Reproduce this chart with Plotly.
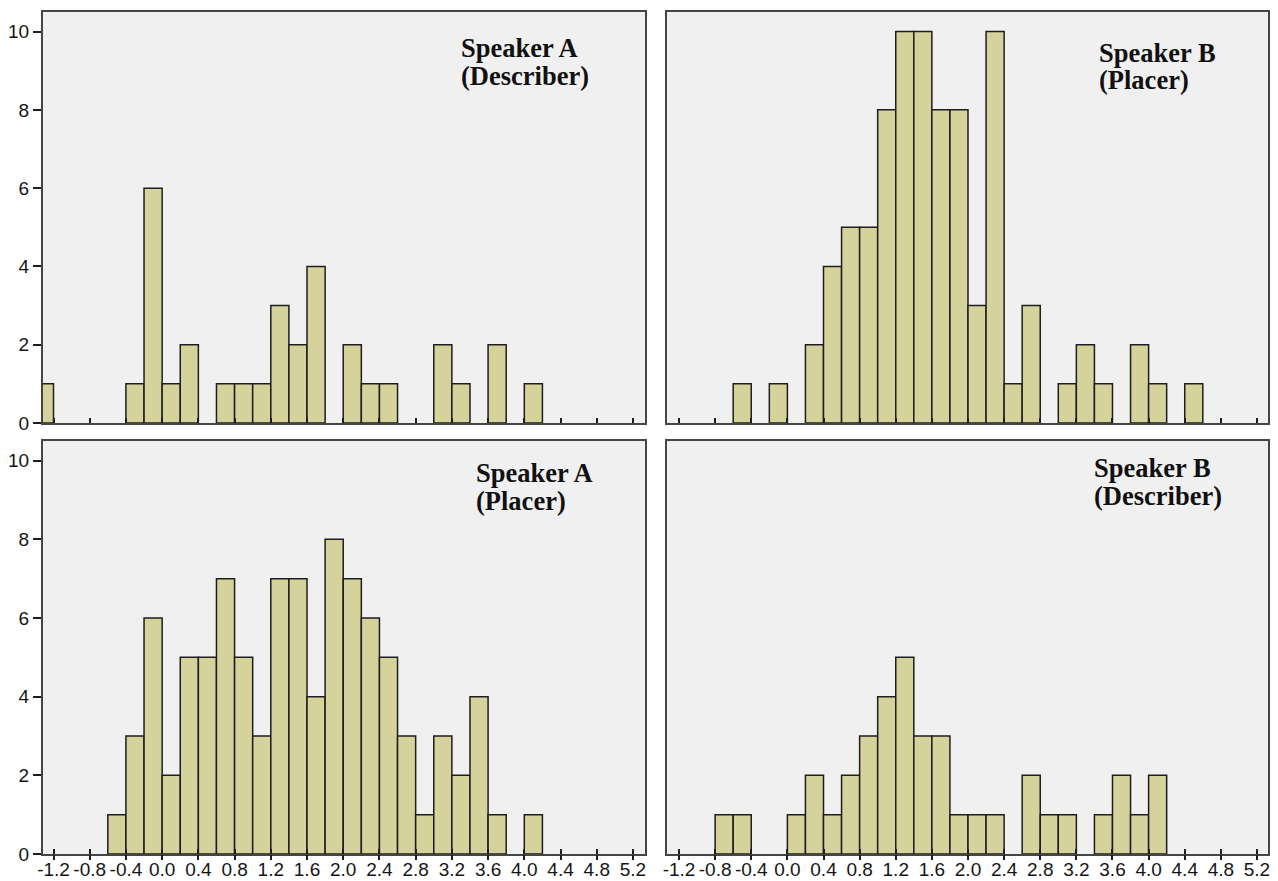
import plotly.graph_objects as go

# ---------------- data ----------------
BIN_LO = [-1.4, -1.2, -1.0, -0.8, -0.6, -0.4, -0.2, 0.0, 0.2, 0.4, 0.6, 0.8, 1.0, 1.2, 1.4,
          1.6, 1.8, 2.0, 2.2, 2.4, 2.6, 2.8, 3.0, 3.2, 3.4, 3.6, 3.8, 4.0, 4.2, 4.4]
BIN_WIDTH = 0.2

A_DESCRIBER = [1, 0, 0, 0, 0, 1, 6, 1, 2, 0, 1, 1, 1, 3, 2, 4, 0, 2, 1, 1, 0, 0, 2, 1, 0, 2, 0, 1, 0, 0]
B_PLACER = [0, 0, 0, 0, 1, 0, 1, 0, 2, 4, 5, 5, 8, 10, 10, 8, 8, 3, 10, 1, 3, 0, 1, 2, 1, 0, 2, 1, 0, 1]
A_PLACER = [0, 0, 0, 0, 1, 3, 6, 2, 5, 5, 7, 5, 3, 7, 7, 4, 8, 7, 6, 5, 3, 1, 3, 2, 4, 1, 0, 1, 0, 0]
B_DESCRIBER = [0, 0, 0, 1, 1, 0, 0, 1, 2, 1, 2, 3, 4, 5, 3, 3, 1, 1, 1, 0, 2, 1, 1, 0, 1, 2, 1, 2, 0, 0]

X_TICK_VALS = [-1.2, -0.8, -0.4, 0.0, 0.4, 0.8, 1.2, 1.6, 2.0, 2.4, 2.8, 3.2, 3.6, 4.0, 4.4, 4.8, 5.2]
X_TICK_TEXT = ["-1.2", "-0.8", "-0.4", "0.0", "0.4", "0.8", "1.2", "1.6", "2.0", "2.4", "2.8",
               "3.2", "3.6", "4.0", "4.4", "4.8", "5.2"]
Y_TICK_VALS = [0, 2, 4, 6, 8, 10]
Y_TICK_TEXT = ["0", "2", "4", "6", "8", "10"]

PANELS = [
    # (title lines, counts, xaxis, yaxis)
    (["Speaker A", "(Describer)"], A_DESCRIBER, "x", "y"),
    (["Speaker B", "(Placer)"], B_PLACER, "x2", "y2"),
    (["Speaker A", "(Placer)"], A_PLACER, "x3", "y3"),
    (["Speaker B", "(Describer)"], B_DESCRIBER, "x4", "y4"),
]

# ---------------- styling ----------------
PAGE_W, PAGE_H = 1278, 881
OFF = 8  # default page margin around the plot div
W, H = PAGE_W - OFF, PAGE_H - OFF
BAR_FILL = "#d5d29b"
BAR_EDGE = "#1e1e1e"
BG = "#f0f0f0"
FRAME = "#454545"
XTICK_FONT = dict(family="Liberation Sans, Arial, sans-serif", size=19, color="#151515")
YTICK_FONT = dict(family="Liberation Sans, Arial, sans-serif", size=19, color="#151515")
TITLE_FONT = dict(family="Liberation Serif, Times New Roman, serif", size=26.5, color="#111111",
                  weight="bold")


def fx(px):
    return (px - OFF) / W


def fy(py):
    return 1 - (py - OFF) / H


LEFT_DOM = [fx(43), fx(645)]
RIGHT_DOM = [fx(667), fx(1268)]
TOP_DOM = [fy(423), fy(12)]
BOT_DOM = [fy(854), fy(441)]
LEFT_RANGE = [-1.316, 5.333]
RIGHT_RANGE = [-1.333, 5.322]
Y_RANGE = [0, 10.5]

# title line positions (left x px, centre y px) in page pixels
TITLE_POS = [
    [(459, 48), (459, 76)],
    [(1097, 53), (1097, 80)],
    [(474, 473), (474, 501)],
    [(1092, 468), (1092, 496)],
]

fig = go.Figure()

for (lines, counts, xa, ya) in PANELS:
    xs = [round(lo + BIN_WIDTH / 2, 3) for lo, c in zip(BIN_LO, counts) if c > 0]
    ys = [c for c in counts if c > 0]
    fig.add_trace(go.Bar(
        x=xs, y=ys, width=BIN_WIDTH, xaxis=xa, yaxis=ya,
        marker=dict(color=BAR_FILL, line=dict(color=BAR_EDGE, width=1.5)),
        showlegend=False, hoverinfo="x+y",
    ))

# helper traces so the overlay tick axes of the bottom panels are drawn
fig.add_trace(go.Scatter(x=[None], y=[None], xaxis="x5", yaxis="y3", showlegend=False,
                         hoverinfo="skip"))
fig.add_trace(go.Scatter(x=[None], y=[None], xaxis="x6", yaxis="y4", showlegend=False,
                         hoverinfo="skip"))


def xaxis(domain, rng, anchor, labels):
    return dict(
        domain=domain, range=rng, anchor=anchor, showgrid=False, zeroline=False,
        showline=True, linecolor=FRAME, linewidth=2, mirror=True, automargin=False,
        tickmode="array", tickvals=X_TICK_VALS, ticktext=X_TICK_TEXT, tickangle=0,
        showticklabels=labels, ticks="inside", ticklen=5, tickwidth=2, tickcolor="#1e1e1e",
        tickfont=XTICK_FONT, ticklabelstandoff=-3, fixedrange=True,
    )


def yaxis(domain, anchor, labels):
    return dict(
        domain=domain, range=Y_RANGE, anchor=anchor, showgrid=False, zeroline=False,
        showline=True, linecolor=FRAME, linewidth=2, mirror=True, automargin=False,
        tickmode="array", tickvals=Y_TICK_VALS, ticktext=Y_TICK_TEXT,
        showticklabels=labels, ticks="outside" if labels else "", ticklen=8, tickwidth=2,
        tickcolor="#1e1e1e", tickfont=YTICK_FONT, fixedrange=True,
    )


def overlay_x(over, anchor, rng):
    # outside half of the crossing tick marks on the bottom panels
    return dict(overlaying=over, anchor=anchor, range=rng, showgrid=False, zeroline=False,
                showline=False, tickmode="array", tickvals=X_TICK_VALS, showticklabels=False,
                ticks="outside", ticklen=5, tickwidth=2, tickcolor="#1e1e1e",
                automargin=False, fixedrange=True)


fig.update_layout(
    width=W, height=H, margin=dict(l=0, r=0, t=0, b=0, autoexpand=False),
    paper_bgcolor="white", plot_bgcolor=BG, barmode="overlay",
    xaxis=xaxis(LEFT_DOM, LEFT_RANGE, "y", False),
    xaxis2=xaxis(RIGHT_DOM, RIGHT_RANGE, "y2", False),
    xaxis3=xaxis(LEFT_DOM, LEFT_RANGE, "y3", True),
    xaxis4=xaxis(RIGHT_DOM, RIGHT_RANGE, "y4", True),
    xaxis5=overlay_x("x3", "y3", LEFT_RANGE),
    xaxis6=overlay_x("x4", "y4", RIGHT_RANGE),
    yaxis=yaxis(TOP_DOM, "x", True),
    yaxis2=yaxis(TOP_DOM, "x2", False),
    yaxis3=yaxis(BOT_DOM, "x3", True),
    yaxis4=yaxis(BOT_DOM, "x4", False),
)

annotations = []
for (lines, _, _, _), positions in zip(PANELS, TITLE_POS):
    for text, (px, py) in zip(lines, positions):
        annotations.append(dict(
            text=text, x=fx(px), y=fy(py), xref="paper", yref="paper",
            xanchor="left", yanchor="middle", showarrow=False, font=TITLE_FONT,
        ))
fig.update_layout(annotations=annotations)

fig.write_html("out.html")
